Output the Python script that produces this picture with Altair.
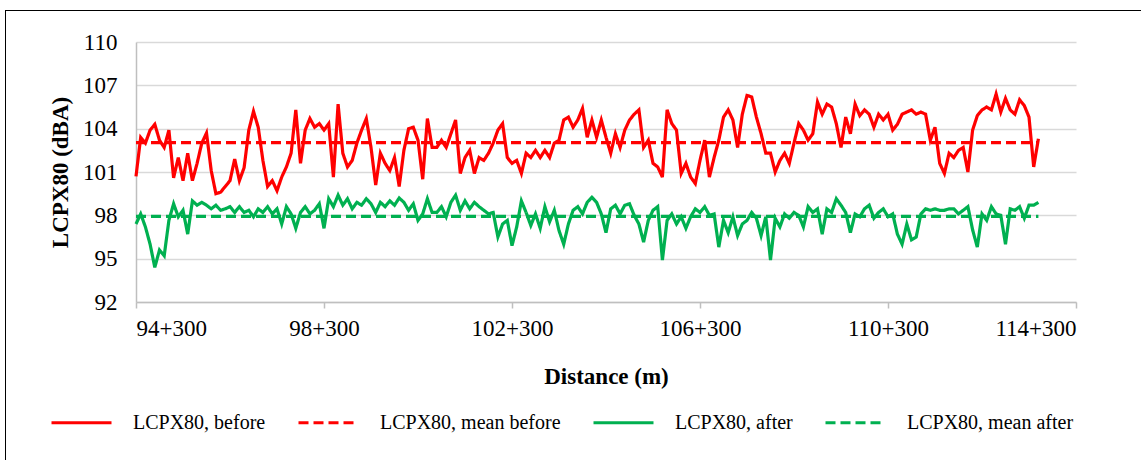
import altair as alt
import pandas as pd

# sampling positions along the road (m), every 100 m
distance = list(range(94300, 113600, 100))

before = [
    100.7, 103.4, 103.0, 103.9, 104.3, 103.2, 102.7, 103.9, 100.6, 102.0,
    100.4, 102.3, 100.4, 101.6, 103.0, 103.7, 101.1, 99.5, 99.6, 100.0,
    100.4, 101.9, 100.4, 101.3, 103.9, 105.2, 104.1, 101.8, 100.0, 100.4,
    99.7, 100.65, 101.35, 102.3, 105.3, 101.6, 103.9, 104.7, 104.1, 104.35,
    103.9, 104.35, 100.65, 105.7, 102.3, 101.35, 101.8, 103.0, 103.9, 104.7,
    102.7, 100.1, 102.3, 101.6, 101.1, 102.0, 100.0, 102.5, 104.0, 104.1,
    103.2, 100.5, 104.7, 102.7, 102.7, 103.2, 102.7, 103.65, 104.6, 100.9,
    102.0, 102.5, 100.9, 102.0, 101.8, 102.3, 103.0, 103.9, 104.35, 102.0,
    101.6, 101.8, 100.9, 102.3, 102.0, 102.5, 102.0, 102.5, 102.0, 103.0,
    103.2, 104.6, 104.8, 104.1, 104.6, 105.4, 103.4, 104.6, 103.4, 104.6,
    103.4, 102.3, 103.65, 102.7, 103.9, 104.6, 105.0, 105.3, 102.7, 103.2,
    101.6, 101.35, 100.65, 105.3, 104.35, 103.9, 100.9, 101.6, 100.65, 100.2,
    101.8, 103.2, 100.65, 102.0, 103.2, 104.8, 105.3, 104.6, 102.7, 105.0,
    106.3, 106.2, 104.8, 103.65, 102.3, 102.3, 101.0, 101.8, 102.3, 101.6,
    103.0, 104.35, 103.9, 103.2, 103.65, 105.85, 105.0, 105.7, 105.5, 104.35,
    102.7, 104.8, 103.65, 105.7, 104.9, 105.3, 105.0, 104.1, 105.0, 104.6,
    105.0, 103.9, 104.3, 105.0, 105.15, 105.3, 105.0, 105.15, 105.0, 103.2,
    104.1, 101.6, 100.9, 102.3, 102.0, 102.5, 102.7, 101.0, 103.9, 104.9,
    105.3, 105.5, 105.3, 106.4, 105.15, 106.1, 105.3, 105.0, 106.0, 105.6,
    104.8, 101.35, 103.3,
]

after = [
    97.4, 98.1, 97.2, 96.0, 94.4, 95.6, 95.2, 97.65, 98.8, 97.9,
    98.35, 96.7, 99.0, 98.7, 98.9, 98.7, 98.45, 98.7, 98.35, 98.45,
    98.6, 98.2, 98.6, 98.2, 98.35, 97.9, 98.45, 98.2, 98.6, 98.1,
    98.45, 97.4, 98.6, 98.1, 97.1, 98.2, 98.6, 98.1, 98.35, 98.8,
    97.1, 99.15, 98.6, 99.4, 98.7, 99.15, 98.45, 98.9, 98.7, 99.15,
    98.8, 98.2, 98.9, 98.6, 99.0, 98.7, 99.2, 98.9, 98.35, 98.8,
    97.65, 98.1, 99.15, 98.2, 98.2, 98.6, 97.9, 98.9, 99.4, 98.35,
    99.0, 98.45, 98.9, 98.6, 98.35, 98.1, 98.2, 96.5, 97.4, 97.65,
    95.9, 97.2, 99.0, 98.2, 97.3, 98.1, 97.1, 98.6, 97.55, 98.35,
    96.95, 96.0, 97.4, 98.35, 98.6, 98.1, 98.9, 99.25, 98.9, 98.1,
    96.8, 98.45, 98.7, 98.1, 98.7, 98.8, 98.0, 97.4, 96.15, 97.65,
    98.35, 98.6, 94.9, 97.65, 98.1, 97.4, 97.9, 97.1, 97.9, 98.45,
    98.2, 98.6, 98.0, 98.1, 95.8, 97.65, 96.8, 97.9, 96.6, 97.4,
    97.65, 98.2, 97.8, 96.6, 97.9, 94.9, 97.8, 97.2, 98.1, 97.8,
    98.2, 98.0, 97.2, 98.6, 98.2, 98.45, 96.7, 98.45, 98.2, 99.15,
    98.7, 98.2, 96.8, 98.1, 97.9, 98.45, 98.7, 97.8, 98.2, 98.45,
    97.9, 98.1, 96.7, 96.0, 97.4, 96.3, 96.5, 98.1, 98.45, 98.35,
    98.45, 98.35, 98.35, 98.45, 98.45, 98.1, 98.35, 98.6, 97.0, 95.8,
    98.1, 97.65, 98.6, 98.1, 98.0, 96.0, 98.45, 98.35, 98.6, 97.8,
    98.7, 98.7, 98.9,
]

mean_before = 103.03
mean_after = 97.93

series_names = ["LCPX80, before", "LCPX80, mean before", "LCPX80, after", "LCPX80, mean after"]
series_colors = ["#FF0000", "#FF0000", "#00B050", "#00B050"]
series_dash = [[1, 0], [10, 5], [1, 0], [10, 5]]

x_ticks = [94300, 98300, 102300, 106300, 110300, 114300]
y_ticks = [92, 95, 98, 101, 104, 107, 110]

rows = []
for d, v in zip(distance, before):
    rows.append({"distance": d, "value": v, "series": series_names[0]})
for d in (distance[0], distance[-1]):
    rows.append({"distance": d, "value": mean_before, "series": series_names[1]})
for d, v in zip(distance, after):
    rows.append({"distance": d, "value": v, "series": series_names[2]})
for d in (distance[0], distance[-1]):
    rows.append({"distance": d, "value": mean_after, "series": series_names[3]})
df = pd.DataFrame(rows)

legend = alt.Legend(
    title=None,
    orient="none",
    legendX=-86,
    legendY=349,
    direction="horizontal",
    symbolType="stroke",
    symbolSize=3600,
    symbolStrokeWidth=3,
    labelFontSize=20,
    labelFont="Liberation Serif",
    labelColor="black",
    labelOffset=20,
    labelLimit=0,
    columnPadding=26,
    values=series_names,
)

lines = alt.Chart(df).mark_line(strokeWidth=3.2).encode(
    x=alt.X(
        "distance:Q",
        scale=alt.Scale(domain=[94300, 114300], nice=False, zero=False),
        axis=alt.Axis(
            values=x_ticks,
            labelExpr="floor(datum.value / 1000) + '+' + format(datum.value % 1000, '03d')",
            title="Distance (m)",
            grid=False,
            domainColor="#BFBFBF",
            domainWidth=1.5,
            tickColor="#BFBFBF",
            tickWidth=1.5,
            tickSize=6,
            labelPadding=9,
            titlePadding=25,
        ),
    ),
    y=alt.Y(
        "value:Q",
        scale=alt.Scale(domain=[92, 110], nice=False, zero=False),
        axis=alt.Axis(
            values=y_ticks,
            title="LCPX80 (dBA)",
            grid=True,
            gridColor="#D9D9D9",
            gridWidth=1.5,
            domainColor="#BFBFBF",
            domainWidth=1.5,
            ticks=False,
            labelPadding=19,
            titlePadding=10,
        ),
    ),
    color=alt.Color(
        "series:N",
        scale=alt.Scale(domain=series_names, range=series_colors),
        legend=legend,
    ),
    strokeDash=alt.StrokeDash(
        "series:N",
        scale=alt.Scale(domain=series_names, range=series_dash),
        legend=legend,
    ),
)

frame_top = alt.Chart(df).mark_rule(color="black", strokeWidth=1).encode(
    x=alt.value(-130.5), x2=alt.value(1005), y=alt.value(-31.5)
)
frame_left = alt.Chart(df).mark_rule(color="black", strokeWidth=1).encode(
    x=alt.value(-130.5), y=alt.value(-31.5), y2=alt.value(418)
)

chart = alt.layer(lines, frame_top, frame_left).properties(
    width=940,
    height=260,
    padding={"left": 5, "top": 10, "right": 0, "bottom": 0},
    background="white",
).configure(
    font="Liberation Serif",
).configure_axis(
    labelFont="Liberation Serif",
    labelFontSize=23,
    labelColor="black",
    titleFont="Liberation Serif",
    titleFontSize=23,
    titleFontWeight="bold",
    titleColor="black",
).configure_view(
    stroke=None,
)

chart.save("out.html", embed_options={"renderer": "svg", "actions": False})
